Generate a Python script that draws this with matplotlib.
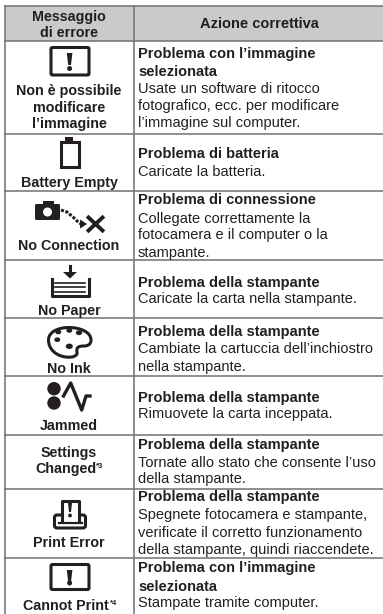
import matplotlib
matplotlib.use("Agg")
import matplotlib.pyplot as plt
from matplotlib.patches import Rectangle, FancyBboxPatch, Circle, Polygon, Ellipse, PathPatch
from matplotlib.path import Path
plt.rcParams['font.family'] = ['Liberation Sans', 'DejaVu Sans']

ink = '#231f20'
grey = '#6f7072'
head = ['Messaggio', 'di errore']
head2 = 'Azione correttiva'
# left column labels
labels = [['Non è possibile', 'modificare', 'l’immagine'], ['Battery Empty'], ['No Connection'],
          ['No Paper'], ['No Ink'], ['Jammed'], ['Settings'], ['Print Error']]
label_y = [[95, 112, 128], [187], [250], [315], [373], [430], [457], [547]]
# right column: bold lines then normal lines
bold = [['Problema con l’immagine', 'selezionata'], ['Problema di batteria'], ['Problema di connessione'],
        ['Problema della stampante'], ['Problema della stampante'], ['Problema della stampante'],
        ['Problema della stampante'], ['Problema della stampante'],
        ['Problema con l’immagine', 'selezionata']]
body = [['Usate un software di ritocco', 'fotografico, ecc. per modificare', 'l’immagine sul computer.'],
        ['Caricate la batteria.'],
        ['Collegate correttamente la', 'fotocamera e il computer o la', 'stampante.'],
        ['Caricate la carta nella stampante.'],
        ['Cambiate la cartuccia dell’inchiostro', 'nella stampante.'],
        ['Rimuovete la carta inceppata.'],
        ['Tornate allo stato che consente l’uso', 'della stampante.'],
        ['Spegnete fotocamera e stampante,', 'verificate il corretto funzionamento', 'della stampante, quindi riaccendete.'],
        ['Stampate tramite computer.']]
text_y = [[58, 76, 93, 110, 127], [158, 176], [204, 223, 239, 257], [287, 303], [336, 353, 371],
          [402, 418], [449, 467, 483], [501, 519, 537, 554], [572, 591, 607]]
row_lines = [41, 134, 190.5, 260, 318, 376, 435, 489, 558]

fig = plt.figure(figsize=(3.83, 6.14), dpi=100)
ax = fig.add_axes([0, 0, 1, 1])
ax.set_xlim(0, 383)
ax.set_ylim(614, 0)
ax.axis('off')

# table
ax.add_patch(Rectangle((5, 6), 378, 35, fc='#c9cacb', ec='none'))
ax.plot([5, 383], [6, 6], color=grey, lw=1.1)
for y in row_lines:
    ax.plot([5, 383], [y, y], color=grey, lw=1.1)
ax.plot([5, 5], [6, 614], color=grey, lw=1.1)
ax.plot([134, 134], [6, 614], color=grey, lw=1.1)

fs = 10.5
fs_left = 10.3
ax.text(69, 17, head[0], ha='center', va='center', fontsize=fs_left, fontweight='bold', color=ink)
ax.text(69, 33, head[1], ha='center', va='center', fontsize=fs_left, fontweight='bold', color=ink)
ax.text(259, 24, head2, ha='center', va='center', fontsize=fs, fontweight='bold', color=ink)

for lines, ys in zip(labels, label_y):
    for s, y in zip(lines, ys):
        ax.text(69, y, s, ha='center', va='baseline', fontsize=fs_left, fontweight='bold', color=ink)

# labels with a footnote mark
ax.text(65.5, 473, 'Changed', ha='center', va='baseline', fontsize=fs_left, fontweight='bold', color=ink)
ax.text(96, 468, '*3', va='baseline', fontsize=5.5, fontweight='bold', color=ink)
ax.text(66, 610, 'Cannot Print', ha='center', va='baseline', fontsize=fs_left, fontweight='bold', color=ink)
ax.text(110, 605, '*4', va='baseline', fontsize=5.5, fontweight='bold', color=ink)

for b, t, ys in zip(bold, body, text_y):
    for i, y in enumerate(ys):
        if i < len(b):
            ax.text(138, y, b[i], va='baseline', fontsize=fs, fontweight='bold', color=ink)
        else:
            ax.text(138, y, t[i - len(b)], va='baseline', fontsize=fs, color=ink)


def warn(top, h):
    ax.add_patch(FancyBboxPatch((51, top), 38, h, boxstyle='round,pad=0,rounding_size=1.5',
                                fc='white', ec=ink, lw=2.2))
    ax.add_patch(Polygon([(66.8, top + 5.5), (72.4, top + 5.5), (71, top + 17.5), (68.2, top + 17.5)], fc=ink, ec='none'))
    ax.add_patch(Circle((69.6, top + h - 6.5), 2.5, fc=ink, ec='none'))


warn(47.5, 27.5)
warn(564.5, 25)

# battery
ax.add_patch(Rectangle((61, 141.5), 17.5, 25, fc='white', ec=ink, lw=2.2))
ax.add_patch(Rectangle((65, 137), 7.5, 4, fc=ink, ec='none'))

# camera with dotted arrow and cross
ax.add_patch(FancyBboxPatch((35, 204), 25, 16, boxstyle='round,pad=0,rounding_size=1.5', fc=ink, ec='none'))
ax.add_patch(Rectangle((43, 200.5), 11, 5, fc=ink, ec='none'))
ax.add_patch(Circle((47.5, 212), 4.5, fc='white', ec='none'))
ax.plot([61, 67, 73, 77, 81], [210, 212, 217, 221, 224], color=ink, lw=2.2, ls=(0, (1, 0.5)))
ax.add_patch(Polygon([(80, 219.5), (87, 224), (80, 228.5)], fc=ink, ec='none'))
ax.plot([88.5, 102.5], [217.5, 230.5], color=ink, lw=2.8)
ax.plot([102.5, 88.5], [217.5, 230.5], color=ink, lw=2.8)

# paper tray
ax.plot([70, 70], [266, 273], color=ink, lw=2.2)
ax.add_patch(Polygon([(63, 272), (77, 272), (70, 278.5)], fc=ink, ec='none'))
ax.plot([52, 52, 89, 89], [279, 296, 296, 279], color=ink, lw=2.2)
for y in [282.5, 287, 291.5]:
    ax.plot([55, 85], [y, y], color=ink, lw=1.2)

# palette
verts = [(48.5, 340), (48.5, 332), (58, 327.5), (69, 327.5), (80, 327.5), (91, 332), (91, 340),
         (91, 345), (87, 346), (84, 346), (79, 346), (76, 347), (77, 352),
         (78, 356), (72, 358), (66, 357), (56, 356), (48.5, 349), (48.5, 340)]
codes = [Path.MOVETO] + [Path.CURVE4] * 18
ax.add_patch(PathPatch(Path(verts, codes), fc='white', ec=ink, lw=2.2))
for cx, cy, r in [(58.3, 332, 2.7), (69.3, 330.5, 2.7), (79, 332.7, 2.9), (57.3, 339.7, 2.7), (69.3, 346.3, 3.2)]:
    ax.add_patch(Ellipse((cx, cy), 2.2 * r, 1.7 * r, fc=ink, ec='none'))

# jammed
ax.add_patch(Circle((54, 388.7), 6.7, fc=ink, ec='none'))
ax.add_patch(Circle((54, 403), 6.7, fc=ink, ec='none'))
ax.plot([63.5, 70.7, 81.7, 86, 90], [396, 383, 410, 396, 396], color=ink, lw=2.4)

# print error
ax.add_patch(FancyBboxPatch((54.5, 515), 31, 13, boxstyle='round,pad=0,rounding_size=2.5', fc='none', ec=ink, lw=2.2))
ax.add_patch(Rectangle((62.8, 512), 15.4, 5, fc='white', ec='none'))
ax.plot([62, 62, 79, 79], [520, 500.5, 500.5, 520], color=ink, lw=2.2)
ax.add_patch(Polygon([(68, 503), (72, 503), (71, 512), (69, 512)], fc=ink, ec='none'))
ax.add_patch(Circle((70, 515.5), 1.9, fc=ink, ec='none'))
ax.plot([59, 82], [522.5, 522.5], color=ink, lw=1.6)

fig.savefig('out.png', dpi=100)
